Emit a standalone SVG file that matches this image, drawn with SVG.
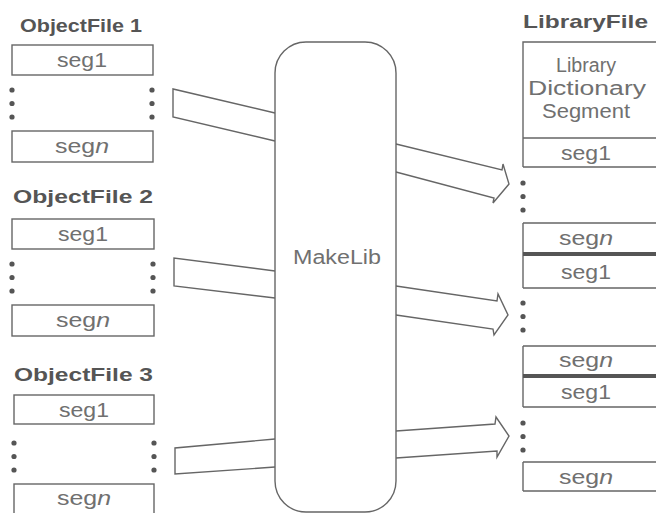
<svg xmlns="http://www.w3.org/2000/svg" width="656" height="513" viewBox="0 0 656 513">
<style>
.ln{fill:none;stroke:#666;stroke-width:1.4}
.wf{fill:#fff;stroke:#666;stroke-width:1.4}
.thick{stroke:#555;stroke-width:4}
.t{font-family:"Liberation Sans",Arial,sans-serif;fill:#707070;font-size:20px}
.h{font-family:"Liberation Sans",Arial,sans-serif;fill:#555;font-size:19px;font-weight:bold}
.it{font-style:italic}
.dot{fill:#555}
</style>
<rect width="656" height="513" fill="#fff"/>
<defs>
<g id="dots"><circle cx="0" cy="0" r="2.6" class="dot"/><circle cx="0" cy="13.5" r="2.6" class="dot"/><circle cx="0" cy="27" r="2.6" class="dot"/></g>
</defs>

<g id="connectors">
<path class="ln" d="M275,113 L173,89 L173,117 L275,141"/>
<path class="ln" d="M275,271 L174,258 L174,286 L275,298"/>
<path class="ln" d="M275,439 L175,448 L175,474 L275,467"/>
<path class="ln" d="M396,144 L502,170 L503,164 L509,184 L493,203 L494,198 L396,172"/>
<path class="ln" d="M396,286 L497,301 L498,294 L508,315 L494,335 L493,329 L396,315"/>
<path class="ln" d="M396,431 L495,424 L496,417 L509,436 L497,457 L497,451 L396,458"/>
</g>

<g id="objectfile1">
<text class="h" x="20" y="32" textLength="122" lengthAdjust="spacingAndGlyphs">ObjectFile 1</text>
<rect class="ln" x="12" y="45" width="141" height="30"/>
<text class="t" x="82" y="67" text-anchor="middle" textLength="50" lengthAdjust="spacingAndGlyphs">seg1</text>
<use href="#dots" x="12" y="90"/><use href="#dots" x="152" y="90"/>
<rect class="ln" x="12" y="131" width="141" height="31"/>
<text class="t" x="82" y="153" text-anchor="middle" textLength="54" lengthAdjust="spacingAndGlyphs">seg<tspan class="it">n</tspan></text>
</g>

<g id="objectfile2">
<text class="h" x="13" y="203" textLength="140" lengthAdjust="spacingAndGlyphs">ObjectFile 2</text>
<rect class="ln" x="12" y="219" width="142" height="30"/>
<text class="t" x="83" y="241" text-anchor="middle" textLength="50" lengthAdjust="spacingAndGlyphs">seg1</text>
<use href="#dots" x="12" y="264"/><use href="#dots" x="153" y="264"/>
<rect class="ln" x="12" y="305" width="142" height="31"/>
<text class="t" x="83" y="327" text-anchor="middle" textLength="54" lengthAdjust="spacingAndGlyphs">seg<tspan class="it">n</tspan></text>
</g>

<g id="objectfile3">
<text class="h" x="14" y="381" textLength="139" lengthAdjust="spacingAndGlyphs">ObjectFile 3</text>
<rect class="ln" x="14" y="395" width="140" height="29"/>
<text class="t" x="84" y="417" text-anchor="middle" textLength="50" lengthAdjust="spacingAndGlyphs">seg1</text>
<use href="#dots" x="14" y="443"/><use href="#dots" x="154" y="443"/>
<rect class="ln" x="14" y="484" width="140" height="30"/>
<text class="t" x="84" y="505" text-anchor="middle" textLength="54" lengthAdjust="spacingAndGlyphs">seg<tspan class="it">n</tspan></text>
</g>

<g id="makelib">
<rect class="wf" x="275" y="42" width="121" height="470" rx="31"/>
<text class="t" x="337" y="264" text-anchor="middle" textLength="88" lengthAdjust="spacingAndGlyphs">MakeLib</text>
</g>

<g id="libraryfile">
<text class="h" x="523" y="28" textLength="125" lengthAdjust="spacingAndGlyphs">LibraryFile</text>
<path class="ln" d="M660,42 H523 V167 M523,138 H660 M523,167 H660"/>
<text class="t" x="586" y="72" text-anchor="middle" textLength="60" lengthAdjust="spacingAndGlyphs">Library</text>
<text class="t" x="587" y="95" text-anchor="middle" textLength="118" lengthAdjust="spacingAndGlyphs">Dictionary</text>
<text class="t" x="586" y="118" text-anchor="middle" textLength="88" lengthAdjust="spacingAndGlyphs">Segment</text>
<text class="t" x="586" y="160" text-anchor="middle" textLength="50" lengthAdjust="spacingAndGlyphs">seg1</text>
<use href="#dots" x="523" y="183"/>
<path class="ln" d="M523,223 V288 M523,223 H660 M523,288 H660"/>
<line class="thick" x1="523" y1="254" x2="660" y2="254"/>
<text class="t" x="586" y="245" text-anchor="middle" textLength="54" lengthAdjust="spacingAndGlyphs">seg<tspan class="it">n</tspan></text>
<text class="t" x="586" y="279" text-anchor="middle" textLength="50" lengthAdjust="spacingAndGlyphs">seg1</text>
<use href="#dots" x="523" y="303"/>
<path class="ln" d="M523,346 V407 M523,346 H660 M523,407 H660"/>
<line class="thick" x1="523" y1="376" x2="660" y2="376"/>
<text class="t" x="586" y="367" text-anchor="middle" textLength="54" lengthAdjust="spacingAndGlyphs">seg<tspan class="it">n</tspan></text>
<text class="t" x="586" y="399" text-anchor="middle" textLength="50" lengthAdjust="spacingAndGlyphs">seg1</text>
<use href="#dots" x="523" y="423"/>
<path class="ln" d="M523,462 V491 M523,462 H660 M523,491 H660"/>
<text class="t" x="586" y="484" text-anchor="middle" textLength="54" lengthAdjust="spacingAndGlyphs">seg<tspan class="it">n</tspan></text>
</g>
</svg>
